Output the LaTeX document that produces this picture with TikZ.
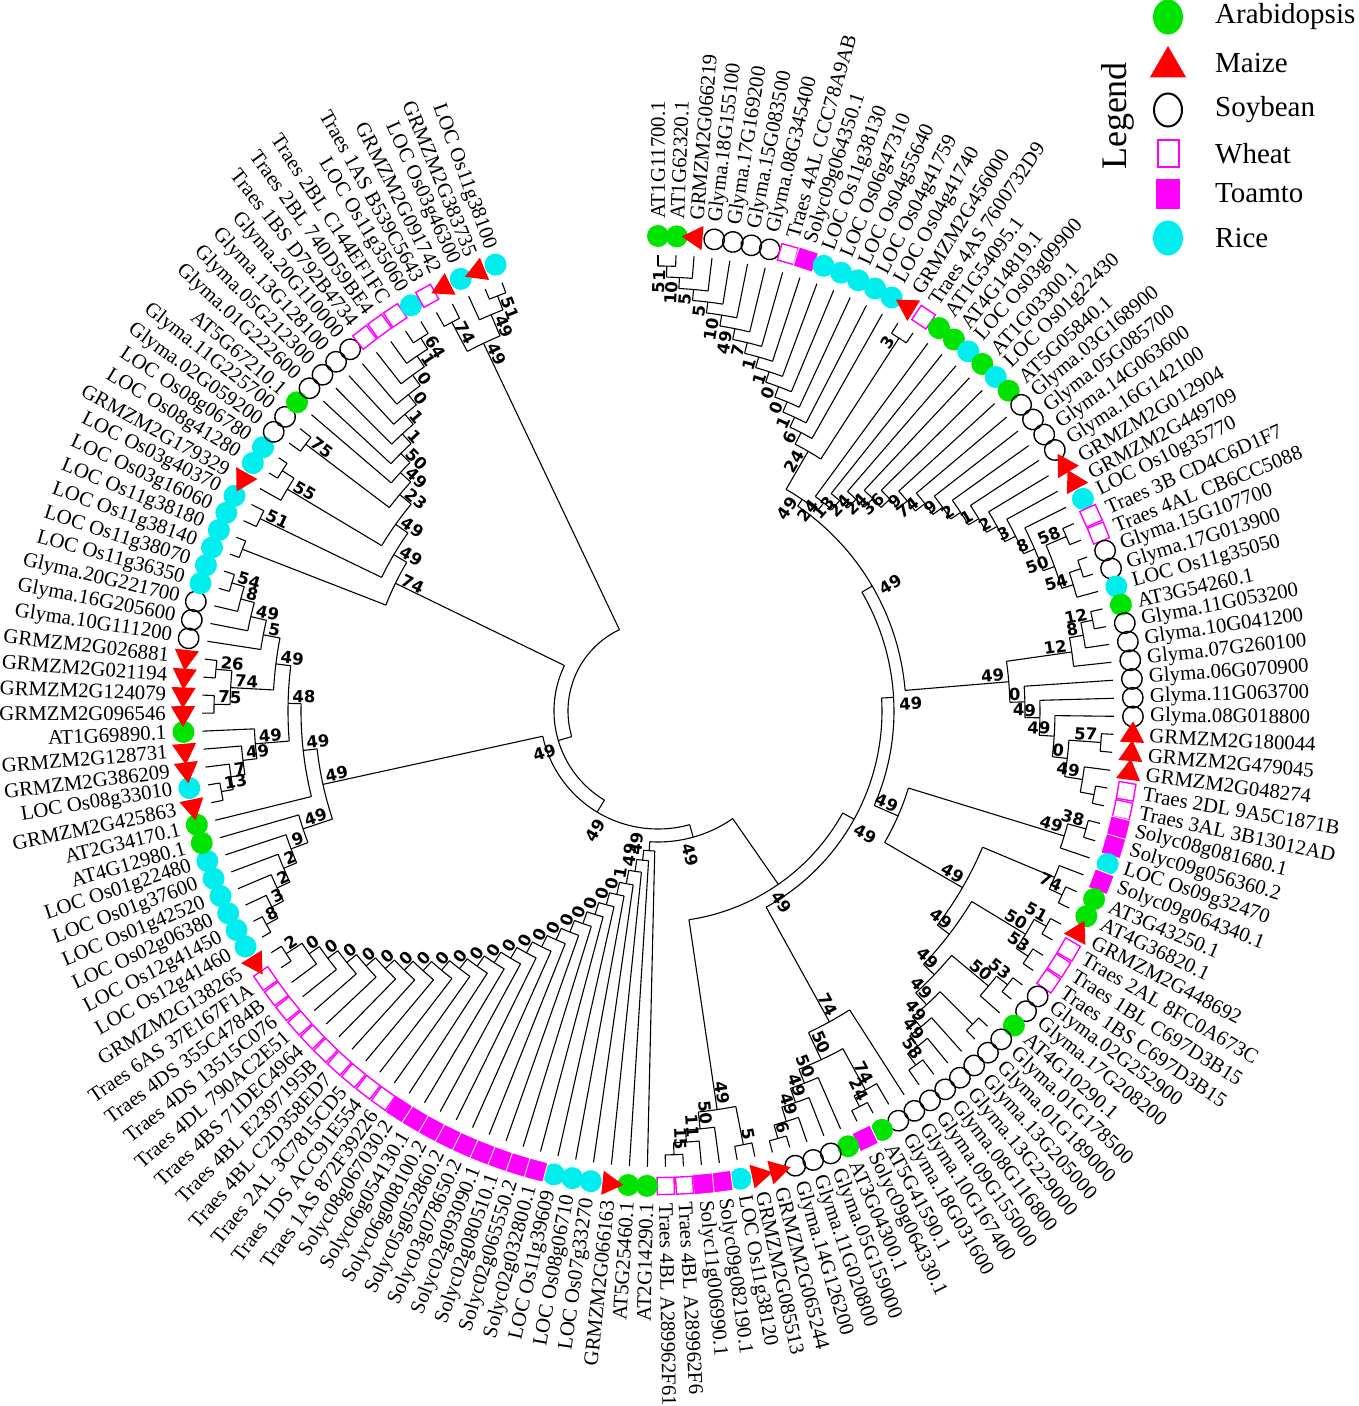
\documentclass[tikz,border=0pt]{standalone}
\usepackage{fontspec}
\setmainfont{Liberation Serif}
\newfontfamily\bsf{DejaVu Sans}
\usetikzlibrary{shapes.geometric}
\definecolor{cara}{RGB}{0,228,0}
\definecolor{cmaize}{RGB}{255,0,0}
\definecolor{cmag}{RGB}{255,0,255}
\definecolor{crice}{RGB}{0,238,238}
\tikzset{
  br/.style={line width=1.1pt, black},
  mA/.style={circle, fill=cara, minimum size=22pt, inner sep=0pt},
  mM/.style={regular polygon, regular polygon sides=3, fill=cmaize, minimum size=28pt, inner sep=0pt},
  mS/.style={circle, draw=black, line width=1.4pt, minimum size=20.5pt, inner sep=0pt},
  mW/.style={rectangle, draw=cmag, line width=1.4pt, fill=white, minimum size=17pt, inner sep=0pt},
  mT/.style={rectangle, fill=cmag, draw=white, line width=0.9pt, minimum size=20pt, inner sep=0pt},
  mR/.style={circle, fill=crice, minimum size=22pt, inner sep=0pt},
  lab/.style={font=\fontsize{20.8}{22}\selectfont, inner sep=0pt},
  bs/.style={font=\bsf\bfseries\fontsize{16.5}{18}\selectfont, inner sep=1pt},
  legtext/.style={font=\fontsize{29}{31}\selectfont, anchor=west, inner sep=0pt}
}
\newif\ifspinemode
\newcommand\bslabel[3]{%
  \if\relax\detokenize{#3}\relax\else
    \pgfmathtruncatemacro\isl{(#1<-90) ? 1 : 0}%
    \ifspinemode
      \pgfmathsetmacro\rl{#2+4}%
      \ifnum\isl=1
        \pgfmathsetmacro\rot{#1+180}%
        \node[bs,rotate=\rot,anchor=north east] at (#1:\rl pt) {#3};%
      \else
        \node[bs,rotate=#1,anchor=north west] at (#1:\rl pt) {#3};%
      \fi
    \else
      \pgfmathsetmacro\rl{#2-3}%
      \ifnum\isl=1
        \pgfmathsetmacro\rot{#1+180}%
        \node[bs,rotate=\rot,anchor=south west] at (#1:\rl pt) {#3};%
      \else
        \node[bs,rotate=#1,anchor=south east] at (#1:\rl pt) {#3};%
      \fi
    \fi
  \fi}
\newcommand\clade[4]{%
  \gdef\cfirst{}%
  \foreach \cc in {#3}{%
    \ifx\cfirst\empty\xdef\cfirst{\cc}\fi
    \xdef\clast{\cc}}%
  \pgfmathsetmacro\ta{\csname TA\cfirst\endcsname}%
  \pgfmathsetmacro\tb{\csname TA\clast\endcsname}%
  \pgfmathsetmacro\tm{(\ta+\tb)/2}%
  \expandafter\xdef\csname TA#1\endcsname{\tm}%
  \expandafter\xdef\csname TR#1\endcsname{#2}%
  \draw[br] (\ta:#2pt) arc[start angle=\ta, end angle=\tb, radius=#2pt];%
  \foreach \cc in {#3}{%
    \pgfmathsetmacro\tc{\csname TA\cc\endcsname}%
    \edef\rc{\csname TR\cc\endcsname}%
    \draw[br] (\tc:#2pt) -- (\tc:\rc pt);}%
  \bslabel{\tm}{#2}{#4}%
}
\begin{document}
\begin{tikzpicture}[x=1pt,y=1pt]
\useasboundingbox (-658,-695) rectangle (700,711);
% ---------- leaves: markers and names ----------
\foreach \i/\spc/\ltxt in {1/A/AT1G11700.1, 2/A/AT1G62320.1, 3/M/GRMZM2G066219, 4/S/Glyma.18G155100, 5/S/Glyma.17G169200, 6/S/Glyma.15G083500, 7/S/Glyma.08G345400, 8/W/Traes 4AL CCC78A9AB, 9/T/Solyc09g064350.1, 10/R/LOC Os11g38130, 11/R/LOC Os06g47310, 12/R/LOC Os04g55640, 13/R/LOC Os04g41759, 14/R/LOC Os04g41740, 15/M/GRMZM2G456000, 16/W/Traes 4AS 7600732D9, 17/A/AT1G54095.1, 18/A/AT4G14819.1, 19/R/LOC Os03g09900, 20/A/AT1G03300.1, 21/R/LOC Os01g22430, 22/A/AT5G05840.1, 23/S/Glyma.03G168900, 24/S/Glyma.05G085700, 25/S/Glyma.14G063600, 26/S/Glyma.16G142100, 27/M/GRMZM2G012904, 28/M/GRMZM2G449709, 29/R/LOC Os10g35770, 30/W/Traes 3B CD4C6D1F7, 31/W/Traes 4AL CB6CC5088, 32/S/Glyma.15G107700, 33/S/Glyma.17G013900, 34/R/LOC Os11g35050, 35/A/AT3G54260.1, 36/S/Glyma.11G053200, 37/S/Glyma.10G041200, 38/S/Glyma.07G260100, 39/S/Glyma.06G070900, 40/S/Glyma.11G063700, 41/S/Glyma.08G018800, 42/M/GRMZM2G180044, 43/M/GRMZM2G479045, 44/M/GRMZM2G048274, 45/W/Traes 2DL 9A5C1871B, 46/W/Traes 3AL 3B13012AD, 47/T/Solyc08g081680.1, 48/T/Solyc09g056360.2, 49/R/LOC Os09g32470, 50/T/Solyc09g064340.1, 51/A/AT3G43250.1, 52/A/AT4G36820.1, 53/M/GRMZM2G448692, 54/W/Traes 2AL 8FC0A673C, 55/W/Traes 1BL C697D3B15, 56/W/Traes 1BS C697D3B15, 57/S/Glyma.02G252900, 58/S/Glyma.17G208200, 59/A/AT4G10290.1, 60/S/Glyma.01G178500, 61/S/Glyma.01G189000, 62/S/Glyma.13G205000, 63/S/Glyma.13G229000, 64/S/Glyma.08G116800, 65/S/Glyma.09G155000, 66/S/Glyma.10G167400, 67/S/Glyma.18G031600, 68/A/AT5G41590.1, 69/T/Solyc09g064330.1, 70/A/AT3G04300.1, 71/S/Glyma.05G159000, 72/S/Glyma.11G020800, 73/S/Glyma.14G126200, 74/M/GRMZM2G065244, 75/M/GRMZM2G085513, 76/R/LOC Os11g38120, 77/T/Solyc09g082190.1, 78/T/Solyc11g006990.1, 79/W/Traes 4BL A289962F6, 80/W/Traes 4BL A289962F61, 81/A/AT2G14290.1, 82/A/AT5G25460.1, 83/M/GRMZM2G066163, 84/R/LOC Os07g33270, 85/R/LOC Os08g06710, 86/R/LOC Os11g39609, 87/T/Solyc02g032800.1, 88/T/Solyc02g065550.2, 89/T/Solyc02g080510.1, 90/T/Solyc02g093090.1, 91/T/Solyc03g078650.2, 92/T/Solyc05g052860.2, 93/T/Solyc06g008100.2, 94/T/Solyc06g054130.1, 95/T/Solyc08g067030.2, 96/W/Traes 1AS 872F39226, 97/W/Traes 1DS ACC91E554, 98/W/Traes 2AL 3C7815CD5, 99/W/Traes 4BL C2D358ED7, 100/W/Traes 4BL E2397195B, 101/W/Traes 4BS 71DEC4964, 102/W/Traes 4DL 790AC2E51, 103/W/Traes 4DS 13515C076, 104/W/Traes 4DS 355C4784B, 105/W/Traes 6AS 37E167F1A, 106/M/GRMZM2G138265, 107/R/LOC Os12g41460, 108/R/LOC Os12g41450, 109/R/LOC Os02g06380, 110/R/LOC Os01g42520, 111/R/LOC Os01g37600, 112/R/LOC Os01g22480, 113/A/AT4G12980.1, 114/A/AT2G34170.1, 115/M/GRMZM2G425863, 116/R/LOC Os08g33010, 117/M/GRMZM2G386209, 118/M/GRMZM2G128731, 119/A/AT1G69890.1, 120/M/GRMZM2G096546, 121/M/GRMZM2G124079, 122/M/GRMZM2G021194, 123/M/GRMZM2G026881, 124/S/Glyma.10G111200, 125/S/Glyma.16G205600, 126/S/Glyma.20G221700, 127/R/LOC Os11g36350, 128/R/LOC Os11g38070, 129/R/LOC Os11g38140, 130/R/LOC Os11g38180, 131/R/LOC Os03g16060, 132/R/LOC Os03g40370, 133/M/GRMZM2G179329, 134/R/LOC Os08g41280, 135/R/LOC Os08g06780, 136/S/Glyma.02G059200, 137/S/Glyma.11G225700, 138/A/AT5G67210.1, 139/S/Glyma.01G222600, 140/S/Glyma.05G212300, 141/S/Glyma.13G128100, 142/S/Glyma.20G110000, 143/W/Traes 1BS D792B4734, 144/W/Traes 2BL 740D59BE4, 145/W/Traes 2BL C144EF1FC, 146/R/LOC Os11g35060, 147/W/Traes 1AS B539C5643, 148/M/GRMZM2G091742, 149/R/LOC Os03g46300, 150/M/GRMZM2G383735, 151/R/LOC Os11g38100}{%
  \pgfmathsetmacro\thA{90-(\i-1)*2.2666667}%
  \expandafter\xdef\csname TA\i\endcsname{\thA}%
  \expandafter\xdef\csname TR\i\endcsname{456}%
  \edef\tmp{\noexpand\node[m\spc, rotate=\thA] (leaf\i) at (\thA:475pt) {};}\tmp
  \pgfmathtruncatemacro\isl{(\thA<-90) ? 1 : 0}%
  \ifnum\isl=1
    \pgfmathsetmacro\rot{\thA+180}%
    \node[lab, rotate=\rot, anchor=east] (lb\i) at (\thA:492pt) {\ltxt};%
  \else
    \node[lab, rotate=\thA, anchor=west] (lb\i) at (\thA:492pt) {\ltxt};%
  \fi
}
% ---------- top-left group ----------
\clade{tA}{445}{150,151}{51}
\clade{tB}{430}{149,tA}{49}
\clade{tC}{440}{147,148}{74}
\clade{TL}{407}{tC,tB}{49}
% ---------- left upper group ----------
\clade{vA}{442}{145,146}{64}
\clade{vB}{429}{144,vA}{1}
\clade{vC}{416}{143,vB}{0}
\clade{vD}{403}{142,vC}{0}
\clade{vE}{390}{141,vD}{1}
\clade{vF}{377}{140,vE}{1}
\clade{vG}{364}{139,vF}{50}
\clade{vH}{351}{138,vG}{49}
\clade{vI}{442}{136,137}{75}
\clade{vJ}{337}{vI,vH}{23}
\clade{vK}{446}{134,135}{}
\clade{vL}{432}{133,vK}{55}
\clade{vM}{322}{vL,vJ}{49}
\clade{vN}{442}{131,132}{51}
\clade{vO}{307}{vN,vM}{49}
\clade{vP}{446}{129,130}{}
\clade{L1}{292}{vP,vO}{74}
% ---------- left lower group ----------
\clade{uA}{445}{127,128}{54}
\clade{uB}{432}{126,uA}{8}
\clade{uC}{418}{125,uB}{49}
\clade{uD}{402}{124,uC}{5}
\clade{wA}{444}{120,121}{75}
\clade{wB}{444}{122,123}{26}
\clade{wC}{428}{wA,wB}{74}
\clade{aA}{385}{wC,uD}{49}
\clade{xA}{444}{115,116}{13}
\clade{xB}{432}{xA,117}{7}
\clade{xC}{418}{xB,118}{49}
\clade{xD}{404}{xC,119}{49}
\clade{aB}{370}{xD,aA}{48}
\clade{aC}{357}{114,aB}{49}
\clade{bA}{446}{107,108}{8}
\clade{bB}{433}{bA,109}{3}
\clade{bC}{420}{bB,110}{2}
\clade{bD}{406}{bC,111}{2}
\clade{bE}{392}{bD,112}{9}
\clade{bF}{374}{bE,113}{49}
\clade{L2}{343}{bF,aC}{49}
% ---------- bottom ladder ----------
\clade{Z1}{444}{105,106}{2}
\foreach \k in {2,...,22}{%
  \pgfmathtruncatemacro\lf{106-\k}%
  \pgfmathtruncatemacro\pv{\k-1}%
  \pgfmathsetmacro\rr{425-(\k-2)*12.47}%
  \ifnum\k<22 \def\zl{0}\else\def\zl{1}\fi
  \edef\tmp{\noexpand\clade{Z\k}{\rr}{\lf,Z\pv}{\zl}}\tmp
}
\clade{Z23}{162}{83,Z22}{49}
\clade{Z24}{150}{82,Z23}{49}
\clade{Z25}{140}{81,Z24}{}
% ---------- bottom right groups ----------
\clade{yA}{444}{79,80}{15}
\clade{yB}{432}{78,yA}{11}
\clade{yC}{420}{77,yB}{50}
\clade{yD}{442}{75,76}{5}
\clade{Y49}{403}{yD,yC}{49}
\clade{yE}{444}{68,69}{24}
\clade{yF}{432}{67,yE}{74}
\clade{yG}{444}{73,74}{6}
\clade{yH}{430}{72,yG}{49}
\clade{yI}{415}{71,yH}{49}
\clade{yJ}{400}{70,yI}{50}
\clade{yK}{385}{yF,yJ}{50}
\clade{Y74}{355}{66,yK}{74}
% ---------- right lower groups ----------
\clade{kA}{444}{47,48}{38}
\clade{R3}{425}{kA,49}{49}
\clade{kB}{444}{51,52}{74}
\clade{kC}{430}{50,kB}{}
\clade{mA}{444}{53,54}{51}
\clade{mB}{444}{55,56}{53}
\clade{mC}{430}{mA,mB}{50}
\clade{mD}{444}{57,58}{53}
\clade{mE}{430}{mD,59}{50}
\clade{sP}{444}{60,61}{}
\clade{S7}{438}{64,65}{58}
\clade{S6}{424}{63,S7}{49}
\clade{S5}{411}{62,S6}{49}
\clade{S4}{398}{sP,S5}{49}
\clade{S3}{382}{mE,S4}{49}
\clade{S2}{367}{mC,S3}{49}
\clade{S1}{352}{kC,S2}{49}
\clade{RR}{262}{R3,S1}{49}
% ---------- right group ----------
\clade{gA}{444}{35,36}{12}
\clade{gB}{432}{gA,37}{8}
\clade{gC}{418}{gB,38}{12}
\clade{hA}{444}{42,43}{57}
\clade{hB}{444}{45,46}{}
\clade{hC}{430}{44,hB}{49}
\clade{hD}{412}{hA,hC}{0}
\clade{hE}{397}{41,hD}{49}
\clade{hF}{382}{40,hE}{49}
\clade{hG}{367}{39,hF}{0}
\clade{R1}{352}{gC,hG}{49}
% ---------- top right group ----------
\clade{t1}{445}{1,2}{51}
\clade{t2}{434}{t1,3}{10}
\clade{t3}{423}{t2,4}{5}
\clade{t4}{412}{t3,5}{5}
\clade{t5}{401}{t4,6}{10}
\clade{t6}{390}{t5,7}{49}
\clade{t7}{379}{t6,8}{7}
\clade{t8}{368}{t7,9}{1}
\clade{t9}{357}{t8,10}{1}
\clade{t10}{346}{t9,11}{0}
\clade{t11}{335}{t10,12}{0}
\clade{t12}{324}{t11,13}{1}
\clade{t13}{313}{t12,14}{6}
\clade{u3}{444}{15,16}{3}
\clade{t14}{300}{t13,u3}{24}
\clade{uP}{446}{32,33}{}
\clade{u54}{434}{uP,34}{54}
\clade{u58}{444}{30,31}{58}
\clade{U14}{422}{u58,u54}{50}
\clade{U13}{410}{29,U14}{8}
\clade{U12}{398}{28,U13}{3}
\clade{U11}{386}{27,U12}{2}
\clade{U10}{374}{26,U11}{1}
\clade{U9}{362}{25,U10}{2}
\clade{U8}{350}{24,U9}{9}
\clade{U7}{338}{23,U8}{74}
\clade{U6}{326}{22,U7}{9}
\clade{U5}{314}{21,U6}{36}
\clade{U4}{302}{20,U5}{24}
\clade{U3}{290}{19,U4}{24}
\clade{U2}{278}{18,U3}{13}
\clade{U1}{266}{17,U2}{24}
\clade{TR}{256}{t14,U1}{49}
% ---------- backbone ----------
\spinemodetrue
\clade{N9}{248}{TR,R1}{49}
\clade{N8}{236}{N9,RR}{49}
\clade{N7}{224}{N8,Y74}{49}
\clade{N5}{211}{N7,Y49}{49}
\clade{N4}{131}{N5,Z25}{49}
\clade{N3}{118}{N4,L2}{49}
\clade{N2}{104}{N3,L1}{49}
\clade{N1}{90}{N2,TL}{}
% ---------- legend ----------
\node[font=\fontsize{36}{40}\selectfont, rotate=90, inner sep=0pt] (legtitle) at (460,595) {Legend};
\node[ellipse, fill=cara, minimum width=30pt, minimum height=35pt, inner sep=0pt] (lgA) at (510,694) {};
\node[regular polygon, regular polygon sides=3, fill=cmaize, minimum size=42pt, inner sep=0pt] (lgM) at (510,644) {};
\node[ellipse, draw=black, line width=2pt, minimum width=28pt, minimum height=33pt, inner sep=0pt] (lgS) at (510,601) {};
\node[rectangle, draw=cmag, line width=2pt, minimum width=21pt, minimum height=27pt, inner sep=0pt] (lgW) at (510,557) {};
\node[rectangle, fill=cmag, minimum width=24pt, minimum height=30pt, inner sep=0pt] (lgT) at (510,517) {};
\node[ellipse, fill=crice, minimum width=30pt, minimum height=35pt, inner sep=0pt] (lgR) at (510,473) {};
\node[legtext] (ltA) at (557,694) {Arabidopsis};
\node[legtext] (ltM) at (557,648) {Maize};
\node[legtext] (ltS) at (557,601) {Soybean};
\node[legtext] (ltW) at (557,557) {Wheat};
\node[legtext] (ltT) at (557,518) {Toamto};
\node[legtext] (ltR) at (557,473) {Rice};
\end{tikzpicture}
\end{document}
